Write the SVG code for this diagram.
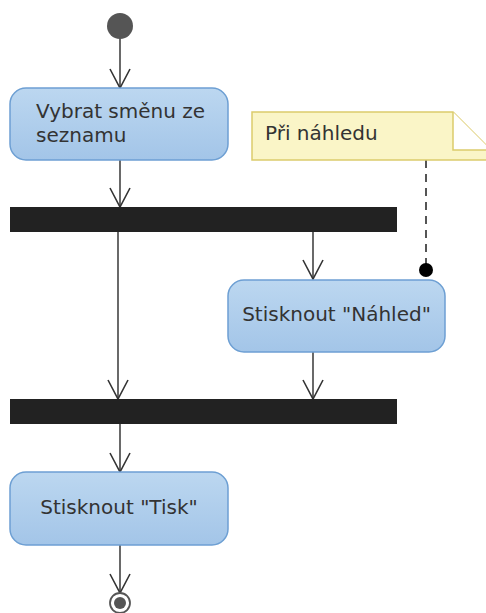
<svg xmlns="http://www.w3.org/2000/svg" width="486" height="613" viewBox="0 0 486 613">
  <defs>
    <linearGradient id="actFill" x1="0" y1="0" x2="0" y2="1">
      <stop offset="0" stop-color="#bcd7f0"/>
      <stop offset="1" stop-color="#a3c5e8"/>
    </linearGradient>
    <!-- open V arrowhead, drawn along +x so orient="auto" points it down the line -->
    <marker id="openArrow" markerWidth="24" markerHeight="24" refX="20" refY="11" orient="auto" markerUnits="userSpaceOnUse" viewBox="0 0 24 24">
      <path d="M1,1 L20,11 L1,21" fill="none" stroke="#333" stroke-width="1.6"/>
    </marker>
  </defs>
  <style>
    .action { fill: url(#actFill); stroke: #6d9fd3; stroke-width: 1.5; }
    .bar { fill: #222; }
    .label { font-family: "DejaVu Sans", Verdana, sans-serif; font-size: 20px; fill: #333; }
    .flow { stroke: #444; stroke-width: 1.6; fill: none; marker-end: url(#openArrow); }
    .note { fill: #faf5c7; stroke: #dccb6c; stroke-width: 1.5; }
  </style>

  <rect width="486" height="613" fill="#ffffff"/>

  <!-- connectors -->
  <g id="connectors">
    <line class="flow" x1="120" y1="38" x2="120" y2="88"/>
    <line class="flow" x1="120" y1="160" x2="120" y2="207"/>
    <line class="flow" x1="313" y1="232" x2="313" y2="279"/>
    <line class="flow" x1="118" y1="232" x2="118" y2="399"/>
    <line class="flow" x1="313" y1="352" x2="313" y2="399"/>
    <line class="flow" x1="120" y1="424" x2="120" y2="472"/>
    <line class="flow" x1="120" y1="545" x2="120" y2="593"/>
    <!-- note anchor -->
    <line x1="426" y1="160" x2="426" y2="268" stroke="#555" stroke-width="2" stroke-dasharray="8,6"/>
    <circle cx="426" cy="270" r="7" fill="#000"/>
  </g>

  <g id="start">
    <circle cx="120" cy="26" r="13" fill="#555"/>
  </g>

  <g id="select-shift">
    <rect class="action" x="10" y="88" width="218" height="72" rx="16" ry="16"/>
    <text class="label" x="36" y="118">Vybrat směnu ze</text>
    <text class="label" x="36" y="142">seznamu</text>
  </g>

  <g id="fork">
    <rect class="bar" x="10" y="207" width="387" height="25"/>
  </g>

  <g id="preview-note">
    <path class="note" d="M252,112 L453,112 L491,150 L491,160 L252,160 Z"/>
    <path d="M453,112 L453,150 L491,150" fill="#ffffff" stroke="#dccb6c" stroke-width="1.5"/>
    <text class="label" x="265" y="140">Při náhledu</text>
  </g>

  <g id="press-preview">
    <rect class="action" x="228" y="280" width="217" height="72" rx="16" ry="16"/>
    <text class="label" x="336.5" y="321" text-anchor="middle">Stisknout "Náhled"</text>
  </g>

  <g id="join">
    <rect class="bar" x="10" y="399" width="387" height="25"/>
  </g>

  <g id="press-print">
    <rect class="action" x="10" y="472" width="218" height="73" rx="16" ry="16"/>
    <text class="label" x="119" y="514" text-anchor="middle">Stisknout "Tisk"</text>
  </g>

  <g id="end">
    <circle cx="120" cy="603" r="10" fill="#fff" stroke="#555" stroke-width="1.8"/>
    <circle cx="120" cy="603" r="6" fill="#555"/>
  </g>
</svg>
